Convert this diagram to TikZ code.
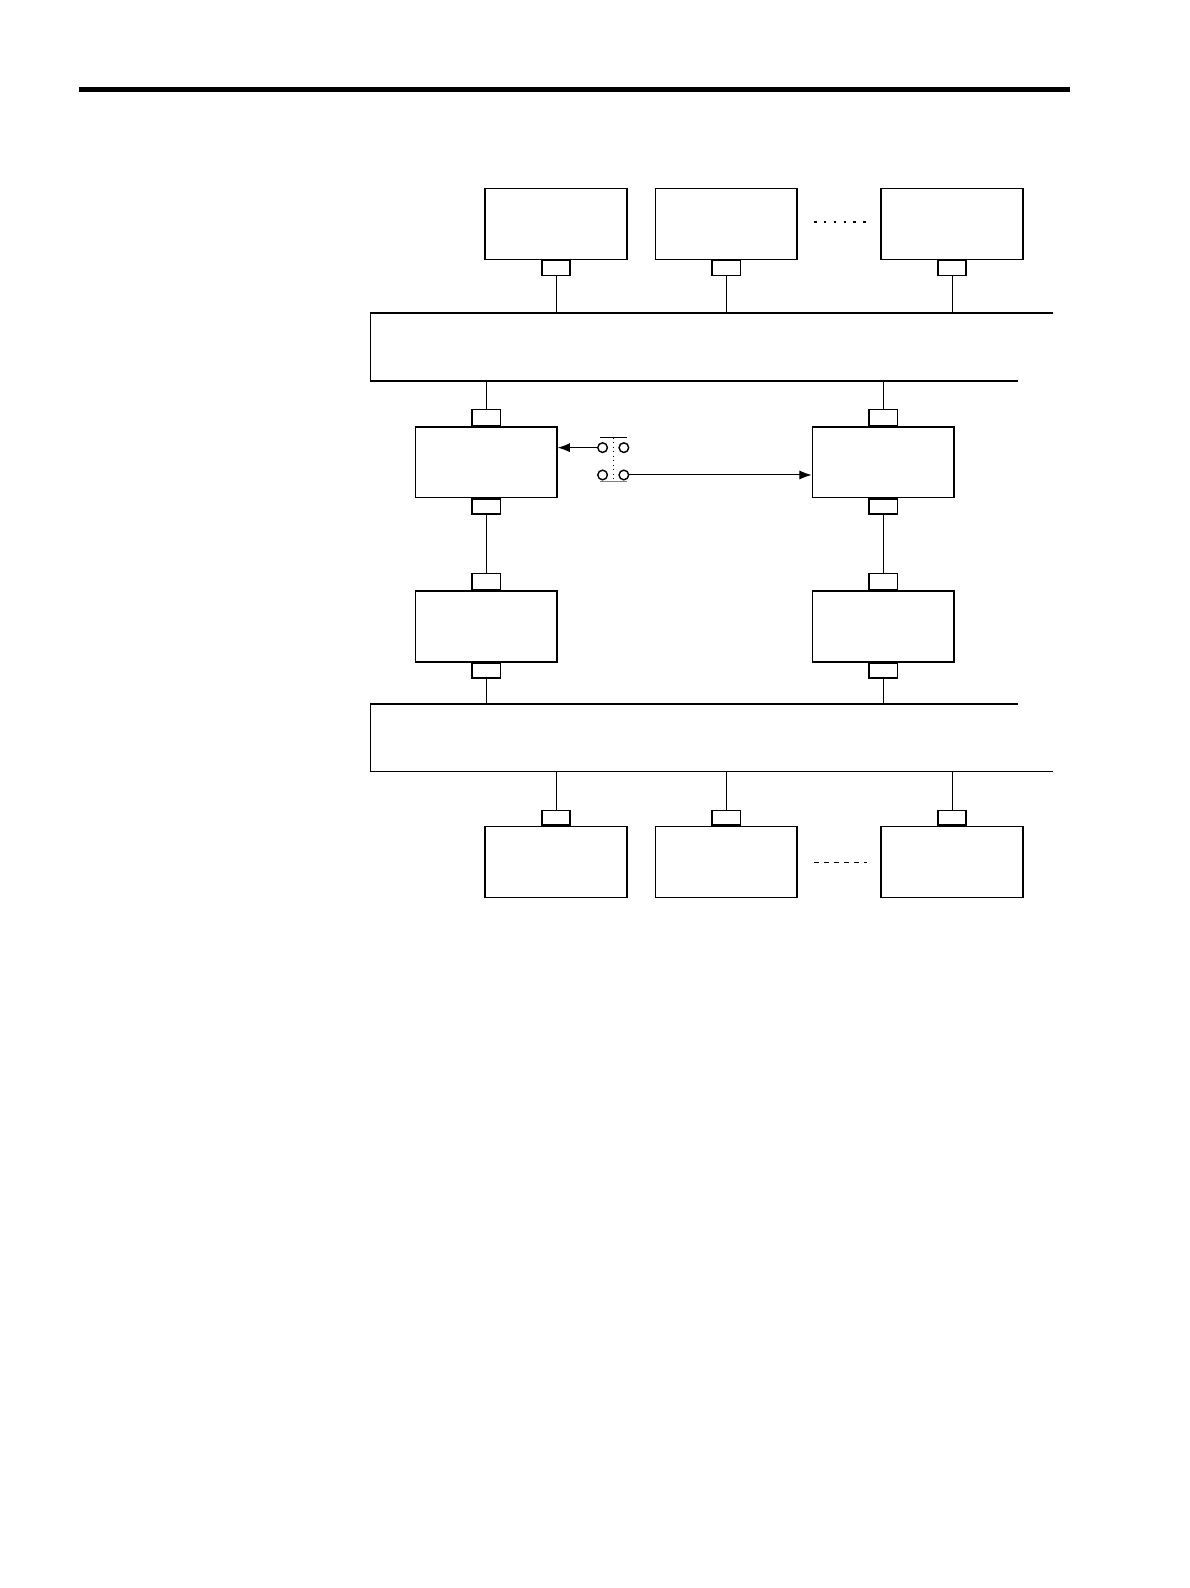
\documentclass[tikz,border=0pt]{standalone}
\usetikzlibrary{arrows.meta, positioning}
\begin{document}
\begin{tikzpicture}[x=0.02cm, y=-0.02cm, line width=0.8pt,
  module/.style={draw, rectangle, minimum width=2.8cm, minimum height=1.4cm, inner sep=0pt},
  port/.style={draw, rectangle, minimum width=0.56cm, minimum height=0.29cm, inner sep=0pt},
  tallport/.style={port, minimum height=0.32cm},
  contact/.style={draw, circle, minimum size=0.19cm, inner sep=0pt},
  wire/.style={line width=0.55pt}]
\useasboundingbox (0,0) rectangle (1175,1568);
% header rule
\draw[line width=2.9pt] (78,88.5) -- (1057,88.5);

% upper row of stations
\node (top1) [module] at (549,221) {};
\node (top2) [module] at (717,221) {};
\node (topn) [module] at (940,221) {};
\node (top1p) [port, below=0pt of top1] {};
\node (top2p) [port, below=0pt of top2] {};
\node (topnp) [port, below=0pt of topn] {};
\draw[line width=1.3pt, dash pattern=on 1.3pt off 4.2pt] (804,219) -- (856,219);

% upper bus
\coordinate (busAtop) at (366,309);
\coordinate (busAbot) at (366,376);
\draw (1040,309) -- (busAtop) -- (busAbot) -- (1005,376);
\draw[wire] (top1p) -- (top1p |- busAtop);
\draw[wire] (top2p) -- (top2p |- busAtop);
\draw[wire] (topnp) -- (topnp |- busAtop);

% redundant controllers
\node (ctlA) [module] at (480,456.5) {};
\node (ctlB) [module] at (872,456.5) {};
\node (ctlAup) [tallport, above=0pt of ctlA] {};
\node (ctlBup) [tallport, above=0pt of ctlB] {};
\node (ctlAdn) [port, below=0pt of ctlA] {};
\node (ctlBdn) [port, below=0pt of ctlB] {};
\draw[wire] (ctlAup) -- (ctlAup |- busAbot);
\draw[wire] (ctlBup) -- (ctlBup |- busAbot);

% interface modules
\node (ioA) [module] at (480,618.5) {};
\node (ioB) [module] at (872,618.5) {};
\node (ioAup) [tallport, above=0pt of ioA] {};
\node (ioBup) [tallport, above=0pt of ioB] {};
\node (ioAdn) [port, below=0pt of ioA] {};
\node (ioBdn) [port, below=0pt of ioB] {};
\draw[wire] (ctlAdn) -- (ioAup);
\draw[wire] (ctlBdn) -- (ioBup);

% changeover switch
\node (sw1) [contact] at (595,442) {};
\node (sw2) [contact] at (616,442) {};
\node (sw3) [contact] at (595,469) {};
\node (sw4) [contact] at (616,469) {};
\draw[wire] (592,432) -- (619,432);
\draw[wire, gray] (592,475) -- (619,475);
\draw[wire, dotted] (605.5,432) -- (605.5,475);
\draw[wire, -{Latex[length=2.4mm, width=1.8mm]}] (sw1) -- (sw1 -| ctlA.east);
\draw[wire, -{Latex[length=2.4mm, width=1.8mm]}] (sw4) -- (sw4 -| ctlB.west);

% lower bus
\coordinate (busBtop) at (366,695);
\coordinate (busBbot) at (366,762);
\draw (1005,695) -- (busBtop) -- (busBbot) -- (1040,762);
\draw[wire] (ioAdn) -- (ioAdn |- busBtop);
\draw[wire] (ioBdn) -- (ioBdn |- busBtop);

% lower row of stations
\node (bot1) [module] at (549,851) {};
\node (bot2) [module] at (717,851) {};
\node (botn) [module] at (940,851) {};
\node (bot1p) [port, above=0pt of bot1] {};
\node (bot2p) [port, above=0pt of bot2] {};
\node (botnp) [port, above=0pt of botn] {};
\draw[wire] (bot1p) -- (bot1p |- busBbot);
\draw[wire] (bot2p) -- (bot2p |- busBbot);
\draw[wire] (botnp) -- (botnp |- busBbot);
\draw[wire, dash pattern=on 2.6pt off 3pt] (804,852) -- (856,852);
\end{tikzpicture}
\end{document}
